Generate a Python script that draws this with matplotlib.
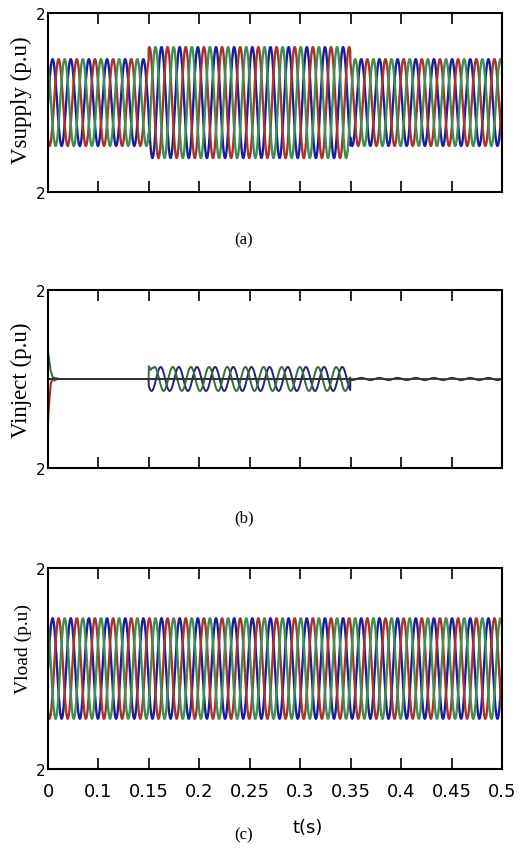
import numpy as np
import matplotlib.pyplot as plt

## 数据
tick_labels = ['0', '0.1', '0.15', '0.2', '0.25', '0.3', '0.35', '0.4', '0.45', '0.5']
t_end = 0.5
freq = 50.0
swell_on = 0.111
swell_off = 0.333

supply_amp = [0.97, 1.24, 0.97]      # before / during / after swell
inject_amp = [0.0, 0.27, 0.0]
load_amp = 1.0
ripple_amp = 0.025                   # residual after injection stops

# start-up transient of the injected voltage (t, value)
start_t = [0.0, 0.0015, 0.003, 0.005, 0.007, 0.009, 0.012]
start_green = [0.63, 0.40, 0.18, 0.05, -0.04, 0.02, 0.0]
start_red = [-0.97, -0.45, -0.12, 0.02, 0.03, -0.01, 0.0]
# kick at injection start
kick_t = [swell_on, swell_on + 0.002, swell_on + 0.005]
kick_green = [0.40, 0.15, 0.0]

colors = ['#1c1c9c', '#a8352a', '#3f8f55']
names = ['Vsupply (p.u)', 'Vinject (p.u)', 'Vload (p.u)']
name_size = [16.5, 16.5, 14]
captions = ['(a)', '(b)', '(c)']

t = np.arange(0, t_end + 1e-5, 2e-4)
phase = [0, -2 * np.pi / 3, 2 * np.pi / 3]
seg = np.where(t < swell_on, 0, np.where(t < swell_off, 1, 2))

def three_phase(amps):
    a = np.asarray(amps)[seg] if np.ndim(amps) else np.full_like(t, amps)
    return [a * np.sin(2 * np.pi * freq * t + p) for p in phase]

v_sup = three_phase(supply_amp)
v_load = three_phase(load_amp)

a_inj = np.asarray(inject_amp)[seg]
inj_blue = a_inj * np.sin(2 * np.pi * freq * t + 0.3)
inj_green = a_inj * np.sin(2 * np.pi * freq * t + 0.3 + 2 * np.pi / 3)
inj_green = inj_green + np.interp(t, kick_t, kick_green, left=0, right=0)
inj_green = inj_green + np.interp(t, start_t, start_green, right=0)
inj_dark = np.where(seg == 2, ripple_amp * np.sin(2 * np.pi * freq * t), 0)
inj_red = np.interp(t, start_t, start_red, right=0)

## 画图
fig = plt.figure(figsize=(5.3, 8.53), dpi=100)
boxes = [[0.0906, 0.7737, 0.8566, 0.2098],
         [0.0906, 0.4502, 0.8566, 0.2087],
         [0.0906, 0.0973, 0.8566, 0.2356]]
label_y = [0.52, 0.5, 0.6]
cap_y = [1 - 240 / 853, 1 - 518 / 853, 1 - 835 / 853]

axes = [fig.add_axes(b) for b in boxes]
for i, ax in enumerate(axes):
    if i == 0:
        for v, c in zip(v_sup, colors):
            ax.plot(t, v, color=c, lw=1.7)
    elif i == 1:
        ax.plot(t, inj_red, color='#b01818', lw=1.4)
        ax.axhline(0, color='#5a2a2a', lw=1.4)
        ax.plot(t, inj_blue, color='#22227a', lw=1.4)
        ax.plot(t, inj_green, color='#3a6a3a', lw=1.4)
        ax.plot(t, inj_dark, color='#333333', lw=1.4)
    else:
        for v, c in zip(v_load, colors):
            ax.plot(t, v, color=c, lw=1.7)
    ax.set_xlim(0, t_end)
    ax.set_ylim(-2, 2)
    ax.set_xticks(np.linspace(0, t_end, 10))
    ax.tick_params(axis='x', direction='in', length=8, width=1.2, top=True, pad=9)
    ax.set_yticks([-2, 2])
    ax.set_yticklabels(['2', '2'], fontsize=11)
    ax.tick_params(axis='y', length=0, pad=2)
    if i < 2:
        ax.set_xticklabels([])
    else:
        ax.set_xticklabels(tick_labels, fontsize=13, family='DejaVu Sans')
    for s in ax.spines.values():
        s.set_linewidth(1.5)
    ax.set_ylabel(names[i], family='Liberation Serif', fontsize=name_size[i])
    ax.yaxis.set_label_coords(-0.035, label_y[i])
    fig.text(0.46, cap_y[i], captions[i], family='Liberation Serif',
             fontsize=12, ha='center', va='center')

fig.text(308 / 530, 1 - 828 / 853, 't(s)', fontsize=13, ha='center', va='center')

fig.savefig('out.png', dpi=100)
